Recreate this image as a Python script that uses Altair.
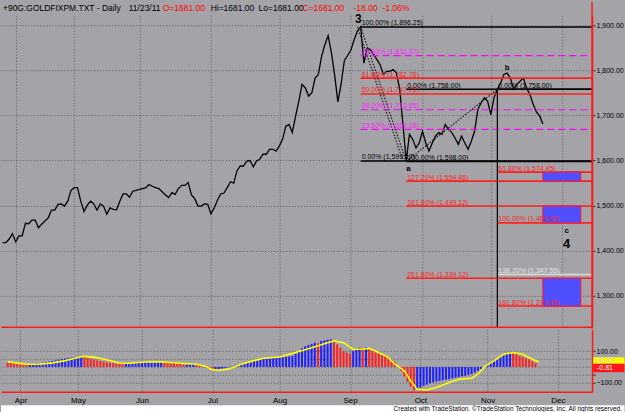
import altair as alt
import pandas as pd

# ---------------- data ----------------
price = [1418, 1418, 1426, 1438, 1420, 1433, 1433, 1461, 1460, 1468,
         1468, 1451, 1459, 1466, 1473, 1490, 1490, 1503, 1504, 1499,
         1510, 1534, 1540, 1540, 1510, 1487, 1501, 1510, 1504, 1490,
         1504, 1499, 1481, 1495, 1492, 1491, 1510, 1526, 1526, 1519,
         1532, 1534, 1536, 1538, 1540, 1547, 1543, 1540, 1538, 1531,
         1524, 1518, 1529, 1525, 1538, 1545, 1545, 1551, 1524, 1516,
         1499, 1499, 1504, 1503, 1482, 1495, 1512, 1526, 1528, 1540,
         1553, 1550, 1577, 1588, 1588, 1599, 1600, 1586, 1599, 1603,
         1614, 1614, 1625, 1625, 1621, 1632, 1647, 1676, 1680, 1662,
         1698, 1732, 1769, 1761, 1743, 1750, 1783, 1791, 1831, 1857,
         1877, 1840, 1790, 1730, 1770, 1822, 1833, 1845, 1868, 1887,
         1896.25, 1816, 1849, 1846, 1835, 1824, 1812, 1791, 1798, 1798,
         1802, 1794, 1758, 1680, 1599.17, 1658, 1647, 1628, 1639, 1665,
         1639, 1621, 1639, 1654, 1662, 1658, 1680, 1669, 1662, 1650,
         1636, 1654, 1639, 1625, 1643, 1665, 1713, 1728, 1739, 1732,
         1702, 1740, 1758, 1772, 1791, 1794, 1783, 1758, 1769, 1776,
         1783, 1760, 1747, 1725, 1708, 1699, 1681]
bar_idx = list(range(len(price)))

hist = [27, 25, 23, 21, 19, 17, 16,
        18, 20, 22, 25, 28, 31, 34, 38,
        42, 46, 50, 54, 57, 60, 62, 63, 64,
        60, 55, 50, 45, 41, 37, 33, 29, 26, 23, 20, 18, 17,
        19, 21, 23, 25, 27, 29, 31, 33, 35, 36, 37, 38,
        35, 32, 29, 25, 21, 18, 16,
        17, 19, 21, 18,
        12, 5, -4, -12, -21,
        -18, -14, -10, -6, -2, 3,
        8, 13, 18, 23, 28, 33, 38, 43, 47, 50, 52, 54, 56, 57, 59,
        61, 64, 67, 70, 82, 101, 118, 130, 139, 146, 154, 150, 165, 168, 172, 175,
        160, 143, 122, 101, 91, 84,
        100, 116, 122, 119, 123,
        110, 100, 92, 84, 78, 70, 59, 45, 30,
        5, -25, -60, -95, -125, -148,
        -141, -130, -120, -112, -104, -98, -93, -89, -85, -81, -78, -73, -68, -64, -60,
        -56, -50, -45, -36, -25, -14, -2,
        12, 26, 40, 52, 64, 74, 84, 91,
        86, 80, 70, 62, 55, 46, 36, 24, -0.81]

sig_idx = [0, 3, 6, 10, 14, 18, 21, 24, 27, 31, 35, 38, 42, 45, 48, 52, 55, 59, 62, 64,
           66, 69, 73, 77, 80, 85, 90, 95, 100, 102, 105, 108, 111, 113, 116, 119, 121,
           124, 126, 128, 131, 134, 138, 141, 145, 147, 149, 152, 155, 158, 161, 164, 166]
sig_val = [34, 24, 17, 18, 26, 40, 55, 68, 62, 45, 25, 23, 30, 33, 32, 27, 22, 17, 3, -17,
           -21, -14, 17, 40, 55, 63, 91, 122, 154, 165, 154, 112, 112, 118, 91, 59, 17,
           -25, -89, -141, -146, -131, -99, -78, -72, -46, 0, 38, 80, 91, 80, 49, 33.24]

month_idx = [4, 22, 42, 64, 85, 107, 129, 150, 172]
month_names = ["Apr", "May", "Jun", "Jul", "Aug", "Sep", "Oct", "Nov", "Dec"]

price_ticks = [1300, 1400, 1500, 1600, 1700, 1800, 1900]
osc_grid = [-100, -50, 0, 50, 100]

fib_start = [110, 110, 110, 110, 110, 110, 110,
             124, 124, 124, 124, 124,
             152, 152, 152, 152, 152]
fib_value = [1896.25, 1832.67, 1782.76, 1747.71, 1712.65, 1669.28, 1599.17,
             1758.00, 1598.00, 1554.46, 1499.12, 1339.12,
             1758.00, 1574.45, 1461.90, 1347.55, 1277.45]
fib_pct = ["100.00%", "78.60%", "61.80%", "50.00%", "38.20%", "23.60%", "0.00%",
           "0.00%", "100.00%", "127.20%", "161.80%", "261.80%",
           "0.00%", "61.80%", "100.00%", "138.20%", "161.80%"]
fib_style = ["black", "magenta", "red", "red", "magenta", "magenta", "black",
             "black", "black", "red", "red", "red",
             "black", "red", "red", "gray", "red"]

diag_x0 = [109, 110, 124]
diag_y0 = [1896.25, 1896.25, 1598.00]
diag_x1 = [123, 124, 152]
diag_y1 = [1599.17, 1598.00, 1758.00]

vline_idx = [152]
vline_top = [1758.00]

box_lo = [1554.46, 1461.90, 1277.45]
box_hi = [1574.45, 1499.12, 1339.12]
box_x0 = [166, 166, 166]
box_x1 = [177.6, 177.6, 177.6]

wave_text = ["3", "a", "b", "c", "4"]
wave_idx = [109.3, 124.7, 155, 173.3, 173.3]
wave_price = [1914, 1581, 1805, 1444, 1416]
wave_size = [12, 8, 8, 8, 13]

last_vals = [33.24, -0.81]
last_cols = ["#ffff00", "#ff1a1a"]
last_txtcol = ["#d0d0d0", "#ffffff"]

header_text = ["+90G:GOLDFIXPM.TXT - Daily", "11/23/11", "O=1681.00", "Hi=1681.00",
               "Lo=1681.00", "C=1681.00", "-18.00", "-1.06%"]
header_col = ["black", "black", "#ff0000", "black", "black", "#ff0000", "#ff0000", "#ff0000"]
header_x = [2, 128, 162, 210, 258, 302, 353, 382]

# ---------------- frames ----------------
FONT = "Liberation Sans"
BG = "#a4a4a8"
GRID = "#5c5c60"
RED = "#ff1a1a"

pdf = pd.DataFrame({"idx": bar_idx, "v": price})
style_col = {"black": "#000000", "magenta": "#ff00ff", "red": "#ff2020", "gray": "#dcdcdc"}
label_col = {"black": "#000000", "magenta": "#ff20ff", "red": "#ff2020", "gray": "#e6e6e6"}
fdf = pd.DataFrame({
    "idx": fib_start, "v": fib_value,
    "label": [f"{p} ({v:,.2f})" for p, v in zip(fib_pct, fib_value)],
    "style": fib_style,
    "lc": [style_col[s] for s in fib_style],
    "tc": [label_col[s] for s in fib_style],
})
ddf = pd.DataFrame({"idx": diag_x0, "v": diag_y0, "idx2": diag_x1, "v2": diag_y1})
vdf = pd.DataFrame({"idx": vline_idx, "v": vline_top})
bdf = pd.DataFrame({"idx": box_x0, "idx2": box_x1, "v": box_lo, "v2": box_hi})
wdf = pd.DataFrame({"idx": wave_idx, "v": wave_price, "t": wave_text, "s": wave_size})
hdf = pd.DataFrame({"idx": bar_idx, "h": hist})
sdf = pd.DataFrame({"idx": sig_idx, "h": sig_val})
ldf = pd.DataFrame({"h": last_vals, "c": last_cols, "tc": last_txtcol, "k": [0, 1],
                    "t": [f"{v:.2f}" for v in last_vals]})

W = 592
H1 = 312
H2 = 62

xs = alt.Scale(domain=[-0.51, 181.1], nice=False, zero=False)
ys = alt.Scale(domain=[1231.4, 1922.1], nice=False, zero=False)
os_ = alt.Scale(domain=[-157, 235.4], nice=False, zero=False)

x_axis_top = alt.Axis(values=month_idx, labels=False, ticks=False, domainColor=RED,
                      domainWidth=1.5, grid=True, gridColor=GRID, gridDash=[1, 2])
y_axis_top = alt.Axis(orient="right", values=price_ticks, format=",.2f", labelFontSize=7,
                      labelColor="black", tickSize=3, tickColor="#303030",
                      labelPadding=1, domainColor=RED, domainWidth=1.5, grid=True,
                      gridColor=GRID, gridDash=[1, 2])
month_expr = " ".join(f"datum.value == {i} ? '{n}' :" for i, n in zip(month_idx, month_names)) + " ''"
x_axis_bot = alt.Axis(values=month_idx, labelExpr=month_expr, labelFontSize=8,
                      labelColor="black", ticks=False, labelPadding=5,
                      domainColor=RED, domainWidth=1.5, grid=True, gridColor=GRID,
                      gridDash=[1, 2], labelFlush=False)
y_axis_bot = alt.Axis(orient="right", values=osc_grid,
                      labelExpr="abs(datum.value) == 100 ? format(datum.value, '.2f') : ''",
                      labelFontSize=7, labelColor="black", tickSize=3, tickColor="#303030",
                      labelPadding=1, domainColor=RED, domainWidth=1.5, grid=True,
                      gridColor=GRID, gridDash=[1, 2])


def X(f="idx"):
    return alt.X(f"{f}:Q", scale=xs, axis=x_axis_top, title=None)


def Y(f="v"):
    return alt.Y(f"{f}:Q", scale=ys, axis=y_axis_top, title=None)


def XB(f="idx"):
    return alt.X(f"{f}:Q", scale=xs, axis=x_axis_bot, title=None)


def O(f="h"):
    return alt.Y(f"{f}:Q", scale=os_, axis=y_axis_bot, title=None)


# ---------------- price panel ----------------
price_line = alt.Chart(pdf).mark_line(color="black", strokeWidth=1.3).encode(x=X(), y=Y())

fib_solid = alt.Chart(fdf).transform_filter("datum.style != 'magenta'").mark_rule(strokeWidth=1.6).encode(
    x=X(), x2=alt.value(W), y=Y(), color=alt.Color("lc:N", scale=None))
fib_dash = alt.Chart(fdf).transform_filter("datum.style == 'magenta'").mark_rule(
    strokeWidth=1.2, strokeDash=[7, 4]).encode(
    x=X(), x2=alt.value(W), y=Y(), color=alt.Color("lc:N", scale=None))
fib_text = alt.Chart(fdf).mark_text(align="left", baseline="bottom", dx=1, dy=-0.5,
                                    fontSize=7, font=FONT).encode(
    x=X(), y=Y(), text="label:N", color=alt.Color("tc:N", scale=None))

diag = alt.Chart(ddf).mark_rule(color="#1a1a1a", strokeWidth=1.2, strokeDash=[1.5, 1.5]).encode(
    x=X(), y=Y(), x2=alt.X2("idx2:Q"), y2=alt.Y2("v2:Q"))
vline = alt.Chart(vdf).mark_rule(color="black", strokeWidth=1.2).encode(
    x=X(), y=Y(), y2=alt.value(H1))
boxes = alt.Chart(bdf).mark_rect(color="#4f4fff", stroke="#e0205a", strokeWidth=1.2).encode(
    x=X(), x2=alt.X2("idx2:Q"), y=Y(), y2=alt.Y2("v2:Q"))
waves = alt.Chart(wdf).mark_text(fontWeight="bold", font=FONT, color="black").encode(
    x=X(), y=Y(), text="t:N", size=alt.Size("s:Q", scale=None))

header_layers = []
for t, c, hx in zip(header_text, header_col, header_x):
    header_layers.append(
        alt.Chart(pd.DataFrame({"t": [t]})).mark_text(
            align="left", baseline="middle", fontSize=8.5, font=FONT, color=c).encode(
            x=alt.value(hx), y=alt.value(-7), text="t:N"))

edge = alt.Chart(pd.DataFrame({"a": [0]})).mark_rule(color=RED, strokeWidth=1.5).encode(
    x=alt.value(W), y=alt.value(-13.5), y2=alt.value(H1 + 2))

top = alt.layer(price_line, fib_solid, fib_dash, diag, vline, boxes, fib_text, waves,
                edge, *header_layers).properties(width=W, height=H1)

# ---------------- oscillator panel ----------------
bars = alt.Chart(hdf).transform_window(
    prev="lag(h)", sort=[alt.SortField("idx")]
).transform_calculate(
    dirn="datum.prev == null || datum.h < datum.prev ? 'down' : 'up'"
).mark_bar(size=2).encode(
    x=XB(), y=O(), y2=alt.datum(0),
    color=alt.Color("dirn:N", scale=alt.Scale(domain=["up", "down"], range=["#1f1fff", "#ff1f1f"]),
                    legend=None),
)
sig = alt.Chart(sdf).mark_line(color="#ffff00", strokeWidth=1.6).encode(x=XB(), y=O())

last_box = alt.Chart(ldf).transform_calculate(
    lo="datum.h + (datum.k == 0 ? -13 : -32.7)",
    hi="datum.h + (datum.k == 0 ? 28 : 21.1)",
).mark_rect().encode(
    x=alt.value(W + 1), x2=alt.value(624.5), y=O("lo"), y2=alt.Y2("hi:Q"),
    color=alt.Color("c:N", scale=None))
last_txt = alt.Chart(ldf).transform_calculate(
    mid="datum.h + (datum.k == 0 ? 9.2 : -7.5)"
).mark_text(align="left", baseline="middle", fontSize=7, font=FONT).encode(
    x=alt.value(W + 5), y=O("mid"), text="t:N", color=alt.Color("tc:N", scale=None))

band = alt.Chart(pd.DataFrame({"a": [0]})).mark_rect(color="white").encode(
    x=alt.value(0), x2=alt.value(624.5), y=alt.value(H2 + 13.5), y2=alt.value(H2 + 21))
footer = alt.Chart(pd.DataFrame({"t": ["Created with TradeStation. \u00a9TradeStation Technologies, Inc. All rights reserved."]})).mark_text(
    align="right", baseline="middle", fontSize=6.5, font=FONT, color="black").encode(
    x=alt.value(622), y=alt.value(H2 + 17), text="t:N")

bottom = alt.layer(bars, sig, last_box, last_txt, band, footer).properties(width=W, height=H2)

chart = alt.vconcat(top, bottom, spacing=0).properties(
    padding={"left": 0, "top": 0, "right": 0, "bottom": 0},
    background=BG,
).configure_view(stroke=None).configure_axis(labelFont=FONT)

chart.save("out.html", embed_options={"renderer": "svg", "actions": False})
